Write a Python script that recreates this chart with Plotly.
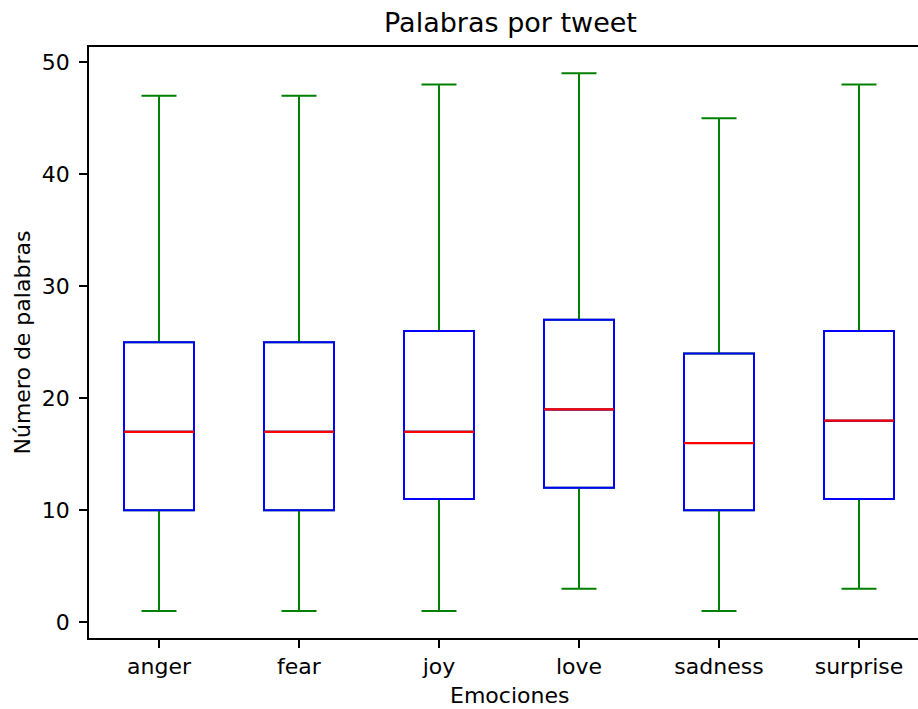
import plotly.graph_objects as go

categories = ["anger", "fear", "joy", "love", "sadness", "surprise"]
lower_whisker = [1, 1, 1, 3, 1, 3]
q1_values = [10, 10, 11, 12, 10, 11]
median_values = [17, 17, 17, 19, 16, 18]
q3_values = [25, 25, 26, 27, 24, 26]
upper_whisker = [47, 47, 48, 49, 45, 48]
y_ticks = [0, 10, 20, 30, 40, 50]

GREEN = "#008000"
BLUE = "#0000ff"
RED = "#ff0000"
LW = 2
FONT = "DejaVu Sans"

W, H = 918, 709
ML, MT, MB = 89, 47, 71
PLOT_W = W - ML

fig = go.Figure()
common = dict(x=categories, width=0.5, boxpoints=False,
              fillcolor="rgba(0,0,0,0)", hoverinfo="skip", showlegend=False)

# whiskers (green)
fig.add_trace(go.Box(q1=q1_values, median=median_values, q3=q3_values,
                     lowerfence=lower_whisker, upperfence=upper_whisker, whiskerwidth=0.5,
                     line=dict(color=GREEN, width=LW), **common))
# boxes (blue)
fig.add_trace(go.Box(q1=q1_values, median=median_values, q3=q3_values,
                     lowerfence=q1_values, upperfence=q3_values, whiskerwidth=0.5,
                     line=dict(color=BLUE, width=LW), **common))
# medians (red), slightly wider so it covers the lines below it
fig.add_trace(go.Box(q1=median_values, median=median_values, q3=median_values,
                     lowerfence=median_values, upperfence=median_values, whiskerwidth=0,
                     line=dict(color=RED, width=2.2), **common))

fig.update_layout(
    width=W, height=H,
    margin=dict(l=ML, r=0, t=MT, b=MB, autoexpand=False),
    paper_bgcolor="white", plot_bgcolor="white",
    boxmode="overlay",
    font=dict(family=FONT, size=22, color="black"),
    title=dict(text="Palabras por tweet", font=dict(family=FONT, size=27, color="black"),
               x=(510.5 - ML) / PLOT_W, xref="paper", xanchor="center", y=1 - 23 / H,
               yref="container", yanchor="middle"),
    xaxis=dict(type="category", range=[-0.5, -0.5 + PLOT_W / 140], automargin=False,
               showline=True, linecolor="black", linewidth=1.5, mirror=True,
               ticks="outside", ticklen=8, tickwidth=1.5, tickcolor="black",
               showgrid=False, zeroline=False,
               tickfont=dict(family=FONT, size=22, color="black")),
    yaxis=dict(range=[-1.4, 51.35], tickvals=y_ticks, automargin=False,
               showline=True, linecolor="black", linewidth=1.5, mirror=False,
               ticks="outside", ticklen=8, tickwidth=1.5, tickcolor="black",
               ticklabelstandoff=5,
               showgrid=False, zeroline=False,
               tickfont=dict(family=FONT, size=22, color="black")),
    annotations=[
        dict(text="Emociones", xref="paper", yref="paper", x=(509 - ML) / PLOT_W, y=0,
             xanchor="center", yanchor="middle", yshift=-57, showarrow=False,
             font=dict(family=FONT, size=22, color="black")),
        dict(text="Número de palabras", xref="paper", yref="paper", x=0, y=0.5,
             xanchor="center", yanchor="middle", xshift=-67, textangle=-90, showarrow=False,
             font=dict(family=FONT, size=22, color="black")),
    ],
)

fig.write_html("out.html",
               config={"displayModeBar": False},
               post_script="document.body.style.margin='0';document.body.style.overflow='hidden';")
